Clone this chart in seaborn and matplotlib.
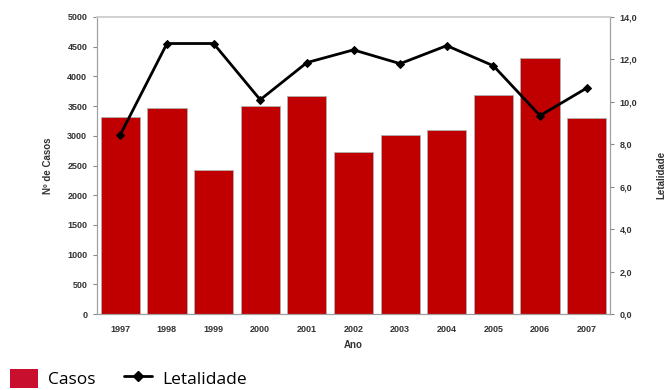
import numpy as np
import pandas as pd
import seaborn as sns
import matplotlib.pyplot as plt
from matplotlib.patches import Patch
from matplotlib.lines import Line2D

# data
anos = ['1997', '1998', '1999', '2000', '2001', '2002', '2003', '2004', '2005', '2006', '2007']
casos = [3310, 3460, 2425, 3500, 3675, 2720, 3020, 3100, 3690, 4310, 3300]
letalidade = [8.45, 12.75, 12.75, 10.1, 11.85, 12.45, 11.8, 12.65, 11.7, 9.35, 10.65]

df = pd.DataFrame({'Ano': anos, 'Casos': casos, 'Letalidade': letalidade})

sns.set_style('white')
plt.rcParams['font.family'] = ['Liberation Sans', 'DejaVu Sans']

fig = plt.figure(figsize=(6.67, 3.9), dpi=100)
ax = fig.add_axes([97 / 667, 76 / 390, 513 / 667, 297 / 390])

sns.barplot(data=df, x='Ano', y='Casos', color='#c00000', saturation=1,
            width=0.84, edgecolor='#b0b0b0', linewidth=0.6, ax=ax)
ax.set_ylim(0, 5000)
ax.set_yticks(np.arange(0, 5001, 500))
ax.set_xlim(-0.5, len(anos) - 0.5)

ax2 = ax.twinx()
sns.lineplot(x=np.arange(len(anos)), y=df['Letalidade'], color='black',
             linewidth=2, marker='D', markersize=4, markeredgecolor='black', ax=ax2)
ax2.set_ylim(0, 14)
ax2.set_yticks(np.arange(0, 14.1, 2))
ax2.set_yticklabels([f'{v:.1f}'.replace('.', ',') for v in np.arange(0, 14.1, 2)])

# x ticks between categories, labels centred
ax.set_xticks(np.arange(-0.5, len(anos), 1), minor=True)
ax.tick_params(axis='x', which='major', length=0, pad=8)
ax.tick_params(axis='x', which='minor', length=3, color='#888888', direction='out')

for a in (ax, ax2):
    for s in a.spines.values():
        s.set_color('#a0a0a0')
        s.set_linewidth(0.8)
    a.spines['top'].set_color('#d0d0d0')
    a.spines['top'].set_linewidth(1.2)

for lbl in ax.get_xticklabels() + ax.get_yticklabels() + ax2.get_yticklabels():
    lbl.set_fontsize(6.5)
    lbl.set_fontweight('bold')
    lbl.set_color('#333333')
ax.tick_params(axis='y', length=3, color='#888888', direction='out', pad=4, left=True)
ax2.tick_params(axis='y', length=3, color='#888888', direction='out', pad=4, right=True)

ax.set_xlabel('Ano', fontsize=7, fontweight='bold', color='#333333', labelpad=4)
ax.set_ylabel('Nº de Casos', fontsize=7, fontweight='bold', color='#333333', labelpad=10)
ax2.set_ylabel('')
fig.text(661 / 667, 1 - 175 / 390, 'Letalidade', rotation=90, ha='center', va='center',
         fontsize=7, fontweight='bold', color='#333333')

handles = [Patch(facecolor='#c8102e', edgecolor='none'),
           Line2D([0], [0], color='black', linewidth=2, marker='D', markersize=5)]
fig.legend(handles, ['Casos', 'Letalidade'], loc='lower left', bbox_to_anchor=(-0.008, -0.035),
           ncol=2, frameon=False, labelcolor='black',
           prop={'family': 'Open Sans', 'size': 12.5},
           handlelength=1.6, handleheight=1.3, handletextpad=0.6, columnspacing=1.6)

fig.savefig('out.png', dpi=100)
